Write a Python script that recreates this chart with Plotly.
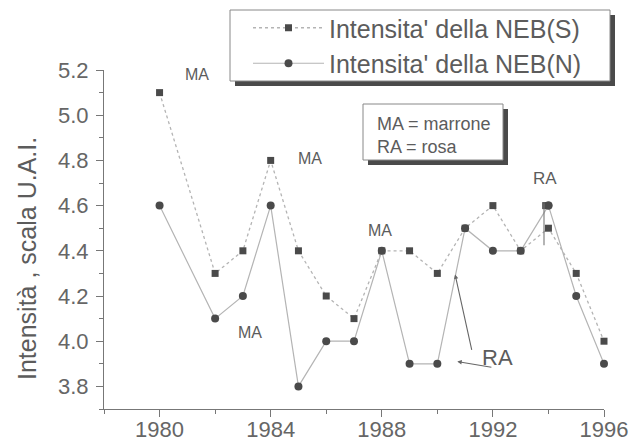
import plotly.graph_objects as go

# Annual intensity readings of the NEB belts
years_s = [1980, 1982, 1983, 1984, 1985, 1986, 1987, 1988, 1989, 1990, 1991, 1992, 1993, 1994, 1995, 1996]
neb_s = [5.1, 4.3, 4.4, 4.8, 4.4, 4.2, 4.1, 4.4, 4.4, 4.3, 4.5, 4.6, 4.4, 4.5, 4.3, 4.0]

years_n = [1980, 1982, 1983, 1984, 1985, 1986, 1987, 1988, 1989, 1990, 1991, 1992, 1993, 1994, 1995, 1996]
neb_n = [4.6, 4.1, 4.2, 4.6, 3.8, 4.0, 4.0, 4.4, 3.9, 3.9, 4.5, 4.4, 4.4, 4.6, 4.2, 3.9]

# Second NEB(S) reading in 1994
extra_s_year = [1993.9]
extra_s_val = [4.6]

# Colour notes: (text, year, value, font size)
notes = [
    ("MA", 1981.35, 5.18, 16),
    ("MA", 1985.4, 4.81, 16),
    ("MA", 1983.26, 4.04, 16),
    ("MA", 1987.94, 4.49, 16),
    ("MA", 1996.6, 4.175, 23),
    ("RA", 1993.87, 4.72, 17),
    ("RA", 1992.15, 3.93, 22),
]

TXT = "#5c5c5c"
LINE = "#b4b4b4"
MARK = "#4a4a4a"
FONT = "Liberation Sans, Arial, sans-serif"

FIG_W, FIG_H = 644, 441
# plot area in pixels
L, T, W, H = 104, 70, 500, 339


def px(x):
    return (x - L) / W


def py(y):
    return (T + H - y) / H


fig = go.Figure()
fig.add_trace(go.Scatter(
    x=years_s, y=neb_s, mode="lines+markers", name="Intensita' della NEB(S)",
    line=dict(color=LINE, width=1.3, dash="dot"),
    marker=dict(symbol="square", size=7, color=MARK),
    cliponaxis=False,
))
fig.add_trace(go.Scatter(
    x=years_n, y=neb_n, mode="lines+markers", name="Intensita' della NEB(N)",
    line=dict(color=LINE, width=1.2),
    marker=dict(symbol="circle", size=8, color=MARK),
    cliponaxis=False,
))
fig.add_trace(go.Scatter(
    x=extra_s_year, y=extra_s_val, mode="markers", showlegend=False,
    marker=dict(symbol="square", size=7, color=MARK), cliponaxis=False,
))
# keep the 1994 NEB(N) circle on top
fig.add_trace(go.Scatter(
    x=[years_n[13]], y=[neb_n[13]], mode="markers", showlegend=False,
    marker=dict(symbol="circle", size=8, color=MARK), cliponaxis=False,
))

annotations = []
for txt, xv, yv, fs in notes:
    annotations.append(dict(x=xv, y=yv, xref="x", yref="y", text=txt, showarrow=False,
                            xanchor="center", yanchor="middle",
                            font=dict(size=fs, color=TXT, family=FONT)))

# arrows from the lower RA note
annotations.append(dict(x=1990.64, y=4.295, ax=1991.25, ay=3.955, xref="x", yref="y",
                        axref="x", ayref="y", text="", showarrow=True, arrowhead=2,
                        arrowsize=0.8, arrowwidth=1.1, arrowcolor="#666"))
annotations.append(dict(x=1990.72, y=3.91, ax=1992.0, ay=3.884, xref="x", yref="y",
                        axref="x", ayref="y", text="", showarrow=True, arrowhead=2,
                        arrowsize=0.8, arrowwidth=1.1, arrowcolor="#666"))

# key box text
annotations.append(dict(x=px(375), y=py(124), xref="paper", yref="paper",
                        xanchor="left", yanchor="middle",
                        text="MA = marrone", showarrow=False,
                        font=dict(size=18, color=TXT, family=FONT)))
annotations.append(dict(x=px(375), y=py(147), xref="paper", yref="paper",
                        xanchor="left", yanchor="middle",
                        text="RA = rosa", showarrow=False,
                        font=dict(size=18, color=TXT, family=FONT)))

# y axis title
annotations.append(dict(x=px(27), y=py(259), xref="paper", yref="paper", textangle=-90,
                        xanchor="center", yanchor="middle",
                        text="Intensità , scala U.A.I.", showarrow=False,
                        font=dict(size=25, color=TXT, family=FONT)))

shapes = [
    # legend shadow and frame
    dict(type="rect", xref="paper", yref="paper", x0=px(235), x1=px(615), y0=py(86), y1=py(15),
         fillcolor="#4a4a4a", line=dict(width=0), layer="above"),
    dict(type="rect", xref="paper", yref="paper", x0=px(230), x1=px(610), y0=py(81), y1=py(10),
         fillcolor="white", line=dict(color="#888", width=1), layer="above"),
    # key box shadow and frame
    dict(type="rect", xref="paper", yref="paper", x0=px(368), x1=px(508), y0=py(165), y1=py(109),
         fillcolor="#4a4a4a", line=dict(width=0), layer="above"),
    dict(type="rect", xref="paper", yref="paper", x0=px(363), x1=px(503), y0=py(160), y1=py(104),
         fillcolor="white", line=dict(color="#888", width=1), layer="above"),
    # marker line at 1994
    dict(type="line", xref="x", yref="y", x0=1993.84, x1=1993.84, y0=4.61, y1=4.425,
         line=dict(color="#777", width=1.1), layer="above"),
]

axis_common = dict(
    showgrid=False, zeroline=False, showline=True, linecolor="#777", linewidth=1,
    ticks="outside", ticklen=7, tickcolor="#777", tickwidth=1, automargin=False,
    tickfont=dict(size=22, color="#666", family=FONT),
)

fig.update_layout(
    width=FIG_W, height=FIG_H,
    margin=dict(l=L, r=FIG_W - L - W, t=T, b=FIG_H - T - H, autoexpand=False),
    paper_bgcolor="white", plot_bgcolor="white",
    font=dict(family=FONT, color=TXT),
    xaxis=dict(range=[1978, 1996], tick0=1980, dtick=4, ticklabelstandoff=-6,
               minor=dict(tick0=1978, dtick=2, ticklen=4, tickcolor="#777", ticks="outside"),
               **axis_common),
    yaxis=dict(range=[3.7, 5.2001], tick0=3.8, dtick=0.2, tickformat=".1f", ticklabelstandoff=3,
               minor=dict(tick0=3.7, dtick=0.1, ticklen=4, tickcolor="#777", ticks="outside"),
               **axis_common),
    legend=dict(xref="container", yref="container",
                x=248 / FIG_W, y=1 - 5 / FIG_H, xanchor="left", yanchor="top",
                bgcolor="rgba(0,0,0,0)", borderwidth=0,
                font=dict(size=25, color=TXT, family=FONT),
                itemwidth=71, tracegroupgap=0),
    annotations=annotations,
    shapes=shapes,
    showlegend=True,
)

fig.write_html("out.html")
